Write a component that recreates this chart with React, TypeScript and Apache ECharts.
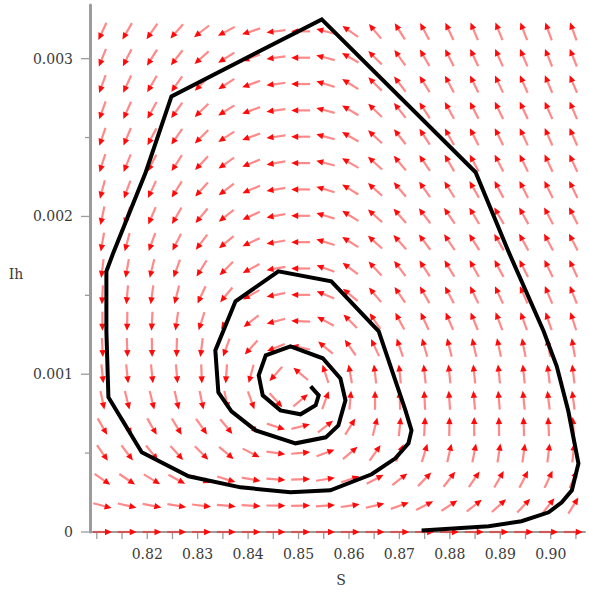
import React, { useEffect, useRef } from "react";
import * as echarts from "echarts";

// Axis ranges
const S_MIN = 0.80865;
const S_MAX = 0.9068;
const IH_MIN = 0;
const IH_MAX = 0.00334;

// Tick values and labels
const xTickValues = [0.81, 0.815, 0.82, 0.825, 0.83, 0.835, 0.84, 0.845, 0.85, 0.855, 0.86, 0.865, 0.87, 0.875, 0.88, 0.885, 0.89, 0.895, 0.9, 0.905];
const xLabelValues = [0.82, 0.83, 0.84, 0.85, 0.86, 0.87, 0.88, 0.89, 0.9];
const xLabelTexts = ["0.82", "0.83", "0.84", "0.85", "0.86", "0.87", "0.88", "0.89", "0.90"];
const yMajorTickValues = [0, 0.001, 0.002, 0.003];
const yMinorTickValues = [0.0005, 0.0015, 0.0025];
const yLabelTexts = ["0", "0.001", "0.002", "0.003"];

// Direction-field grid (S columns, Ih rows) and arrow directions in degrees (0 = +S, 90 = +Ih)
const fieldS = [0.81111, 0.81602, 0.82094, 0.82585, 0.83077, 0.83568, 0.8406, 0.84551, 0.85042, 0.85534, 0.86025, 0.86517, 0.87008, 0.875, 0.87991, 0.88483, 0.88974, 0.89465, 0.89957, 0.90448];
const fieldIh = [0, 0.000167, 0.000334, 0.000501, 0.000668, 0.000835, 0.001002, 0.001169, 0.001336, 0.001503, 0.00167, 0.001837, 0.002004, 0.002171, 0.002338, 0.002505, 0.002672, 0.002839, 0.003006, 0.003173];
const fieldAngles = [
  [0, 0, 0, 0, 0, 0, 0, 0, 0, 0, 0, 0, 0, 0, 0, 0, 0, 0, 0, 0],
  [345, 347, 349, 351, 353, 355, 357, 359, 1, 4, 8, 13, 20, 27, 33, 38, 42, 47, 52, 58],
  [325, 326, 329, 332, 337, 343, 350, 356, 2, 9, 18, 28, 38, 46, 52, 56, 60, 63, 65, 67],
  [305, 307, 309, 312, 315, 320, 333, 352, 5, 20, 40, 55, 67, 73, 77, 79, 81, 82, 83, 84],
  [300, 300, 300, 301, 305, 310, 320, 342, 14, 38, 58, 76, 84, 87, 89, 90, 91, 92, 93, 94],
  [282, 284, 284, 283, 282, 282, 290, 312, 40, 70, 85, 90, 92, 93, 94, 95, 95, 96, 97, 98],
  [276, 276, 276, 275, 272, 266, 255, 228, 140, 108, 100, 97, 96, 96, 96, 96, 96, 96, 97, 97],
  [273, 272, 271, 269, 263, 250, 228, 202, 168, 140, 125, 115, 109, 106, 104, 103, 102, 101, 100, 100],
  [270, 269, 267, 262, 252, 237, 218, 195, 178, 152, 135, 124, 118, 115, 113, 112, 111, 110, 109, 108],
  [267, 265, 262, 256, 245, 230, 210, 192, 180, 157, 140, 130, 124, 120, 118, 116, 115, 114, 113, 112],
  [263, 260, 256, 250, 238, 225, 208, 190, 180, 160, 143, 133, 127, 123, 121, 119, 118, 117, 116, 115],
  [260, 255, 250, 243, 233, 220, 205, 190, 180, 163, 148, 138, 132, 127, 124, 122, 120, 119, 118, 117],
  [258, 252, 247, 240, 230, 218, 205, 190, 180, 163, 148, 138, 131, 127, 124, 121, 120, 119, 118, 117],
  [255, 250, 245, 238, 228, 217, 203, 190, 180, 163, 148, 138, 130, 125, 122, 120, 118, 117, 116, 116],
  [252, 248, 243, 237, 227, 215, 202, 190, 180, 165, 150, 138, 130, 124, 120, 118, 117, 116, 115, 115],
  [251, 247, 242, 235, 225, 213, 200, 188, 180, 165, 150, 137, 128, 123, 119, 117, 116, 115, 114, 114],
  [250, 246, 241, 234, 224, 212, 200, 188, 180, 165, 149, 136, 128, 123, 119, 117, 116, 115, 114, 113],
  [250, 245, 240, 235, 225, 213, 200, 188, 180, 163, 148, 135, 127, 122, 118, 116, 115, 114, 113, 113],
  [248, 243, 238, 232, 222, 212, 200, 188, 180, 165, 150, 135, 125, 120, 117, 115, 114, 113, 112, 112],
  [245, 240, 235, 228, 218, 208, 198, 187, 180, 165, 145, 130, 122, 118, 115, 113, 112, 111, 110, 110],
];

// Solution trajectory (S, Ih)
const trajS = [0.8744, 0.8877, 0.8942, 0.8996, 0.9022, 0.9042, 0.9055, 0.9035, 0.9012, 0.8986, 0.8917, 0.8851, 0.8546, 0.8248, 0.8197, 0.8133, 0.8119, 0.8119, 0.8123, 0.8189, 0.8282, 0.8385, 0.8484, 0.8563, 0.8645, 0.8692, 0.8718, 0.8724, 0.8712, 0.8659, 0.8565, 0.846, 0.8375, 0.8335, 0.8341, 0.8367, 0.8415, 0.8494, 0.8554, 0.8579, 0.8593, 0.8583, 0.8548, 0.8484, 0.8435, 0.8421, 0.8429, 0.8464, 0.8504, 0.8534, 0.854, 0.8524];
const trajIh = [0.00001, 0.000036, 0.000068, 0.000125, 0.000188, 0.000264, 0.000435, 0.000765, 0.00105, 0.001272, 0.001772, 0.00228, 0.003249, 0.002761, 0.00228, 0.001772, 0.001652, 0.001272, 0.000854, 0.000505, 0.000353, 0.000283, 0.000252, 0.000264, 0.000366, 0.000467, 0.000562, 0.000644, 0.000771, 0.001272, 0.001589, 0.001652, 0.001462, 0.001151, 0.000885, 0.000765, 0.000644, 0.000562, 0.0006, 0.000676, 0.000835, 0.000974, 0.001101, 0.001177, 0.00112, 0.000993, 0.000866, 0.000771, 0.000746, 0.000803, 0.000866, 0.000923];

const FONT = "DejaVu Serif";
const TEXT_COLOR = "#3a3a3a";
const AXIS_COLOR = "#9c9c9c";

export default function App() {
  const ref = useRef<HTMLDivElement>(null);

  useEffect(() => {
    if (!ref.current) return;
    const chart = echarts.init(ref.current, undefined, { renderer: "svg" });

    const arrowData: number[][] = [];
    for (let k = 0; k < fieldIh.length; k++) {
      for (let j = 0; j < fieldS.length; j++) {
        arrowData.push([fieldS[j], fieldIh[k], fieldAngles[k][j]]);
      }
    }
    const trajData = trajS.map((s, i) => [s, trajIh[i]]);

    const option: any = {
      animation: false,
      backgroundColor: "#ffffff",
      grid: { left: 90, right: 4, top: 5, bottom: 61 },
      xAxis: {
        type: "value",
        min: S_MIN,
        max: S_MAX,
        axisLine: { show: true, onZero: false, lineStyle: { color: AXIS_COLOR, width: 2 } },
        axisTick: { show: false },
        axisLabel: { show: false },
        splitLine: { show: false },
      },
      yAxis: {
        type: "value",
        min: IH_MIN,
        max: IH_MAX,
        axisLine: { show: true, onZero: false, lineStyle: { color: AXIS_COLOR, width: 3 } },
        axisTick: { show: false },
        axisLabel: { show: false },
        splitLine: { show: false },
      },
      graphic: [
        {
          type: "text",
          x: 16,
          y: 274,
          style: { text: "Ih", font: `14px "${FONT}"`, fill: TEXT_COLOR, align: "center", verticalAlign: "middle" },
        },
        {
          type: "text",
          x: 341,
          y: 580,
          style: { text: "S", font: `14px "${FONT}"`, fill: TEXT_COLOR, align: "center", verticalAlign: "middle" },
        },
      ],
      series: [
        {
          type: "custom",
          name: "field",
          coordinateSystem: "cartesian2d",
          data: arrowData,
          encode: { x: 0, y: 1 },
          z: 3,
          silent: true,
          renderItem: (params: any, api: any) => {
            const p = api.coord([api.value(0), api.value(1)]);
            const a = (api.value(2) * Math.PI) / 180;
            const dx = Math.cos(a);
            const dy = -Math.sin(a);
            const L = 19;
            const tail = [p[0] - (dx * L) / 2, p[1] - (dy * L) / 2];
            const tip = [p[0] + (dx * L) / 2, p[1] + (dy * L) / 2];
            const hl = 7;
            const hw = 3.2;
            const base = [tip[0] - dx * hl, tip[1] - dy * hl];
            const nx = -dy;
            const ny = dx;
            return {
              type: "group",
              children: [
                {
                  type: "line",
                  shape: { x1: tail[0], y1: tail[1], x2: base[0] + dx * 1, y2: base[1] + dy * 1 },
                  style: { stroke: "rgba(255,20,20,0.5)", lineWidth: 2.2 },
                },
                {
                  type: "polygon",
                  shape: {
                    points: [
                      tip,
                      [base[0] + nx * hw, base[1] + ny * hw],
                      [base[0] - nx * hw, base[1] - ny * hw],
                    ],
                  },
                  style: { fill: "#ff0a0a" },
                },
              ],
            };
          },
        },
        {
          type: "line",
          name: "trajectory",
          data: trajData,
          showSymbol: false,
          z: 5,
          silent: true,
          lineStyle: { color: "#000000", width: 4, join: "miter" },
        },
        {
          type: "custom",
          name: "xticks",
          coordinateSystem: "cartesian2d",
          data: xTickValues.map((v) => [v, 0]),
          encode: { x: 0, y: 1 },
          z: 2,
          silent: true,
          renderItem: (params: any, api: any) => {
            const p = api.coord([api.value(0), 0]);
            return {
              type: "line",
              shape: { x1: p[0], y1: p[1], x2: p[0], y2: p[1] + 7 },
              style: { stroke: AXIS_COLOR, lineWidth: 1.3 },
            };
          },
        },
        {
          type: "custom",
          name: "xlabels",
          coordinateSystem: "cartesian2d",
          data: xLabelValues.map((v) => [v, 0]),
          encode: { x: 0, y: 1 },
          z: 2,
          silent: true,
          renderItem: (params: any, api: any) => {
            const p = api.coord([api.value(0), 0]);
            return {
              type: "text",
              x: p[0],
              y: p[1] + 22,
              style: {
                text: xLabelTexts[params.dataIndex],
                font: `14px "${FONT}"`,
                fill: TEXT_COLOR,
                align: "center",
                verticalAlign: "middle",
              },
            };
          },
        },
        {
          type: "custom",
          name: "ymajor",
          coordinateSystem: "cartesian2d",
          data: yMajorTickValues.map((v) => [S_MIN, v]),
          encode: { x: 0, y: 1 },
          z: 2,
          silent: true,
          renderItem: (params: any, api: any) => {
            const p = api.coord([S_MIN, api.value(1)]);
            return {
              type: "group",
              children: [
                {
                  type: "line",
                  shape: { x1: p[0] - 9, y1: p[1], x2: p[0], y2: p[1] },
                  style: { stroke: AXIS_COLOR, lineWidth: 1.3 },
                },
                {
                  type: "text",
                  x: p[0] - 17,
                  y: p[1],
                  style: {
                    text: yLabelTexts[params.dataIndex],
                    font: `14px "${FONT}"`,
                    fill: TEXT_COLOR,
                    align: "right",
                    verticalAlign: "middle",
                  },
                },
              ],
            };
          },
        },
        {
          type: "custom",
          name: "yminor",
          coordinateSystem: "cartesian2d",
          data: yMinorTickValues.map((v) => [S_MIN, v]),
          encode: { x: 0, y: 1 },
          z: 2,
          silent: true,
          renderItem: (params: any, api: any) => {
            const p = api.coord([S_MIN, api.value(1)]);
            return {
              type: "line",
              shape: { x1: p[0] - 5, y1: p[1], x2: p[0], y2: p[1] },
              style: { stroke: AXIS_COLOR, lineWidth: 1.3 },
            };
          },
        },
      ],
    };

    chart.setOption(option);
    return () => chart.dispose();
  }, []);

  return (
    <div
      ref={ref}
      style={{ position: "fixed", left: 0, top: 0, width: 589, height: 593, background: "#ffffff" }}
    />
  );
}
